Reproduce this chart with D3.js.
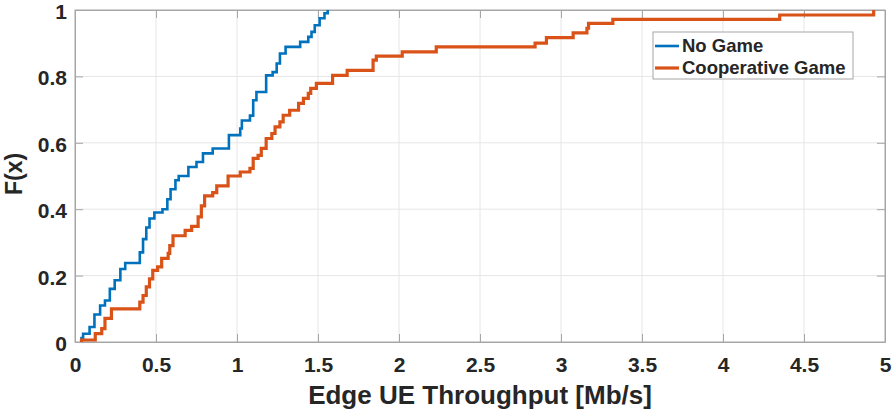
<!DOCTYPE html>
<html>
<head>
<meta charset="utf-8">
<script src="https://cdn.jsdelivr.net/npm/d3@7"></script>
<style>
  body { margin: 0; background: #fff; }
  text { font-family: Arial, "Liberation Sans", sans-serif; font-weight: bold; fill: #262626; }
</style>
</head>
<body>
<div id="chart"></div>
<script>
const noGameX = [0.04, 0.05, 0.09, 0.12, 0.155, 0.185, 0.215, 0.245, 0.28, 0.31, 0.40, 0.42, 0.44, 0.46, 0.49, 0.54, 0.57, 0.59, 0.62, 0.64, 0.70, 0.75, 0.79, 0.85, 0.95, 1.02, 1.03, 1.08, 1.10, 1.12, 1.18, 1.22, 1.245, 1.265, 1.30, 1.39, 1.44, 1.46, 1.48, 1.51, 1.54, 1.56];
const noGameF = [0.012, 0.025, 0.045, 0.083, 0.11, 0.125, 0.16, 0.186, 0.22, 0.238, 0.27, 0.31, 0.345, 0.372, 0.39, 0.40, 0.43, 0.46, 0.487, 0.50, 0.527, 0.542, 0.568, 0.583, 0.623, 0.643, 0.667, 0.682, 0.728, 0.753, 0.803, 0.813, 0.839, 0.869, 0.889, 0.904, 0.919, 0.934, 0.954, 0.975, 0.99, 1.0];

const coopX = [0.04, 0.125, 0.165, 0.185, 0.225, 0.40, 0.42, 0.44, 0.46, 0.48, 0.51, 0.535, 0.575, 0.585, 0.605, 0.68, 0.72, 0.76, 0.78, 0.80, 0.85, 0.875, 0.945, 1.02, 1.08, 1.10, 1.13, 1.15, 1.18, 1.215, 1.235, 1.265, 1.285, 1.325, 1.38, 1.41, 1.44, 1.455, 1.49, 1.59, 1.68, 1.84, 1.86, 2.02, 2.23, 2.84, 2.91, 3.075, 3.16, 3.17, 3.32, 4.35, 4.93];
const coopF = [0.006, 0.025, 0.04, 0.071, 0.10, 0.12, 0.14, 0.166, 0.19, 0.216, 0.226, 0.252, 0.267, 0.29, 0.32, 0.336, 0.348, 0.377, 0.41, 0.44, 0.45, 0.47, 0.50, 0.512, 0.523, 0.553, 0.562, 0.583, 0.613, 0.628, 0.648, 0.663, 0.683, 0.698, 0.719, 0.734, 0.749, 0.764, 0.779, 0.803, 0.818, 0.849, 0.861, 0.874, 0.889, 0.90, 0.917, 0.931, 0.945, 0.96, 0.972, 0.985, 1.0];

const xTicks = [0, 0.5, 1, 1.5, 2, 2.5, 3, 3.5, 4, 4.5, 5];
const yTicks = [0, 0.2, 0.4, 0.6, 0.8, 1];

const seriesNames = ['No Game', 'Cooperative Game'];
const seriesColors = ['#0072BD', '#D95319'];

const margin = { top: 10, right: 9, bottom: 68, left: 75 },
  width = 894 - margin.left - margin.right,
  height = 410 - margin.top - margin.bottom;

const x = d3.scaleLinear().domain([0, 5]).range([0, width]);
const y = d3.scaleLinear().domain([0, 1]).range([height, 0]);

const svg = d3
  .select('#chart')
  .append('svg')
  .attr('width', 894)
  .attr('height', 410)
  .append('g')
  .attr('transform', 'translate(' + margin.left + ',' + margin.top + ')');

// grid
svg.append('g')
  .selectAll('line')
  .data(xTicks.slice(1, -1))
  .enter()
  .append('line')
  .attr('x1', (d) => x(d)).attr('x2', (d) => x(d))
  .attr('y1', 0).attr('y2', height)
  .style('stroke', '#e6e6e6');

svg.append('g')
  .selectAll('line')
  .data(yTicks.slice(1, -1))
  .enter()
  .append('line')
  .attr('y1', (d) => y(d)).attr('y2', (d) => y(d))
  .attr('x1', 0).attr('x2', width)
  .style('stroke', '#e6e6e6');

// axes, ticks pointing inwards like matlab
const fmt = d3.format('');
const xAxis = d3.axisBottom(x).tickValues(xTicks).tickFormat(fmt).tickSizeInner(-8).tickSizeOuter(0).tickPadding(15);
const yAxis = d3.axisLeft(y).tickValues(yTicks).tickFormat(fmt).tickSizeInner(-8).tickSizeOuter(0).tickPadding(8);

svg.append('g')
  .attr('class', 'x axis')
  .attr('transform', 'translate(0,' + height + ')')
  .call(xAxis);
svg.append('g')
  .attr('class', 'y axis')
  .call(yAxis)
  .selectAll('text')
  .attr('dy', '0.4em');

svg.append('g')
  .call(d3.axisTop(x).tickValues(xTicks).tickFormat('').tickSizeInner(-8).tickSizeOuter(0));
svg.append('g')
  .attr('transform', 'translate(' + width + ',0)')
  .call(d3.axisRight(y).tickValues(yTicks).tickFormat('').tickSizeInner(-8).tickSizeOuter(0));

svg.selectAll('.domain, .tick line').style('stroke', '#a6a6a6');
svg.selectAll('.axis text').style('font-size', '21px').style('font-family', null);

// box
svg.append('rect')
  .attr('width', width).attr('height', height)
  .style('fill', 'none').style('stroke', '#a6a6a6');

// step lines
const line = d3.line()
  .curve(d3.curveStepAfter)
  .x((d) => x(d[0]))
  .y((d) => y(d[1]));

const series = [
  d3.zip(noGameX, noGameF),
  d3.zip(coopX, coopF),
];
series[0].unshift([noGameX[0], 0]);
series[1].unshift([coopX[0], 0]);

svg.selectAll('.cdf')
  .data(series)
  .enter()
  .append('path')
  .attr('class', 'cdf')
  .attr('d', line)
  .style('fill', 'none')
  .style('stroke', (d, i) => seriesColors[i])
  .style('stroke-width', (d, i) => (i === 0 ? 2.6 : 3.2));

// labels
svg.append('text')
  .attr('x', width / 2)
  .attr('y', height + 62)
  .style('text-anchor', 'middle')
  .style('font-size', '26px')
  .text('Edge UE Throughput [Mb/s]');

svg.append('text')
  .attr('transform', 'rotate(-90)')
  .attr('x', -164)
  .attr('y', -53)
  .style('text-anchor', 'middle')
  .style('font-size', '23px')
  .text('F(x)');

// legend
const legend = svg.append('g').attr('transform', 'translate(' + (653 - margin.left) + ',' + (32 - margin.top) + ')');
legend.append('rect')
  .attr('width', 200).attr('height', 47)
  .style('fill', '#fff').style('stroke', '#a6a6a6');

const item = legend.selectAll('.item')
  .data(seriesNames)
  .enter()
  .append('g')
  .attr('transform', (d, i) => 'translate(0,' + (14 + i * 22) + ')');
item.append('line')
  .attr('x1', 2).attr('x2', 26)
  .style('stroke', (d, i) => seriesColors[i])
  .style('stroke-width', (d, i) => (i === 0 ? 2.6 : 3.2));
item.append('text')
  .attr('x', 29)
  .attr('dy', '0.35em')
  .style('font-size', '18.5px')
  .text((d) => d);
</script>
</body>
</html>
